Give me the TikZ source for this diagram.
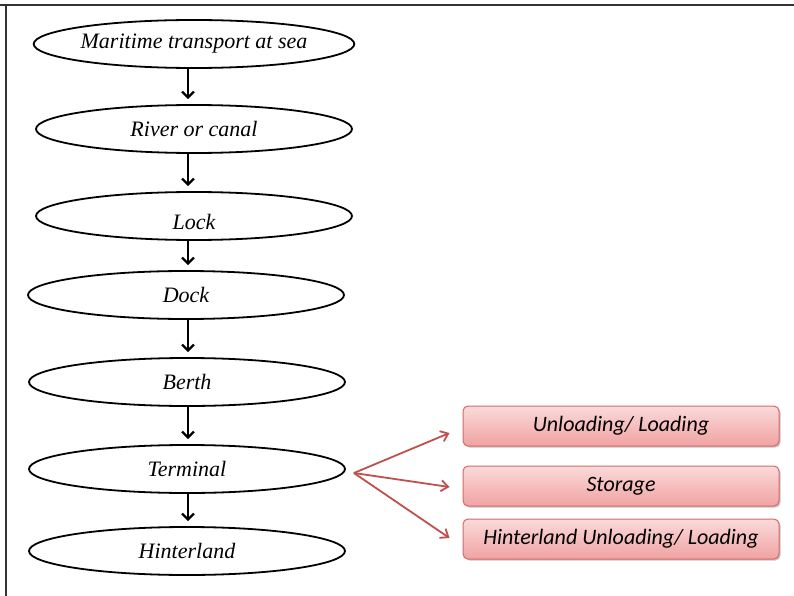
\documentclass[tikz,border=0pt]{standalone}
\usepackage{fontspec}
\setmainfont{Liberation Serif}
\newfontfamily\ovalfont{Liberation Serif}
\newfontfamily\boxfont{Carlito}
\usetikzlibrary{shapes.geometric,arrows.meta,shadows}
\definecolor{framegray}{HTML}{333333}
\definecolor{redline}{HTML}{C0504D}
\definecolor{boxedge}{HTML}{D46A6A}
\definecolor{boxtop}{HTML}{FBDADA}
\definecolor{boxbottom}{HTML}{F0A2A2}
\tikzset{
  oval/.style={ellipse, draw=black, line width=1.8pt, minimum width=316, minimum height=48,
    inner sep=0pt, font=\ovalfont\itshape\fontsize{22}{24}\selectfont},
  ovaltext/.style={inner sep=0pt, font=\ovalfont\itshape\fontsize{22}{24}\selectfont},
  stepbox/.style={rectangle, rounded corners=5pt, draw=boxedge, line width=1pt,
    top color=boxtop, bottom color=boxbottom, minimum width=316, minimum height=40,
    inner sep=0pt, font=\boxfont\itshape\fontsize{22}{24}\selectfont,
    drop shadow={shadow xshift=1.5pt, shadow yshift=-1.5pt, opacity=0.45, fill=gray}},
  flow/.style={draw=black, line width=2.2pt, -{Straight Barb[length=6pt,width=12pt]}},
  branch/.style={draw=redline, line width=1.8pt, -{Straight Barb[length=7pt,width=11pt]}}
}
\begin{document}
\begin{tikzpicture}[x=1pt, y=-1pt]
  \useasboundingbox (0,0) rectangle (794,596);
  \fill[white] (0,0) rectangle (794,596);
  % frame edges (top and left only)
  \draw[framegray, line width=2pt] (0,5) -- (794,5);
  \draw[framegray, line width=2pt] (6,5) -- (6,596);

  % main chain of stages
  \node[oval] (sea)   at (194,44)  {Maritime transport at sea};
  \node[oval] (river) at (194,129) {River or canal};
  \node[oval] (lock)  at (194,216) {};
  \node[ovaltext] (locktxt) at ([yshift=-6pt]lock.center) {Lock};
  \node[oval] (dock)  at (186,295) {Dock};
  \node[oval] (berth) at (187,382) {Berth};
  \node[oval] (term)  at (187,469) {Terminal};
  \node[oval] (hint)  at (187,551) {Hinterland};

  % column of the downward arrows
  \coordinate (ax) at (188,0);
  \draw[flow, shorten >=5pt] (sea.south -| ax)   -- (river.north -| ax);
  \draw[flow, shorten >=5pt] (river.south -| ax) -- (lock.north -| ax);
  \draw[flow, shorten >=5pt] (lock.south -| ax)  -- (dock.north -| ax);
  \draw[flow, shorten >=5pt] (dock.south -| ax)  -- (berth.north -| ax);
  \draw[flow, shorten >=5pt] (berth.south -| ax) -- (term.north -| ax);
  \draw[flow, shorten >=5pt] (term.south -| ax)  -- (hint.north -| ax);

  % terminal activities
  \node[stepbox] (unload)  at (621,426) {Unloading/ Loading};
  \node[stepbox] (storage) at (621,486) {Storage};
  \node[stepbox] (hload)   at (621,539) {Hinterland Unloading/ Loading};

  \coordinate (fork) at ([xshift=8pt,yshift=-4pt]term.east);
  \draw[branch] (fork) -- ([xshift=-13pt,yshift=-7pt]unload.west);
  \draw[branch] (fork) -- ([xshift=-13pt,yshift=-1pt]storage.west);
  \draw[branch] (fork) -- ([xshift=-13pt,yshift=1pt]hload.west);
\end{tikzpicture}
\end{document}
